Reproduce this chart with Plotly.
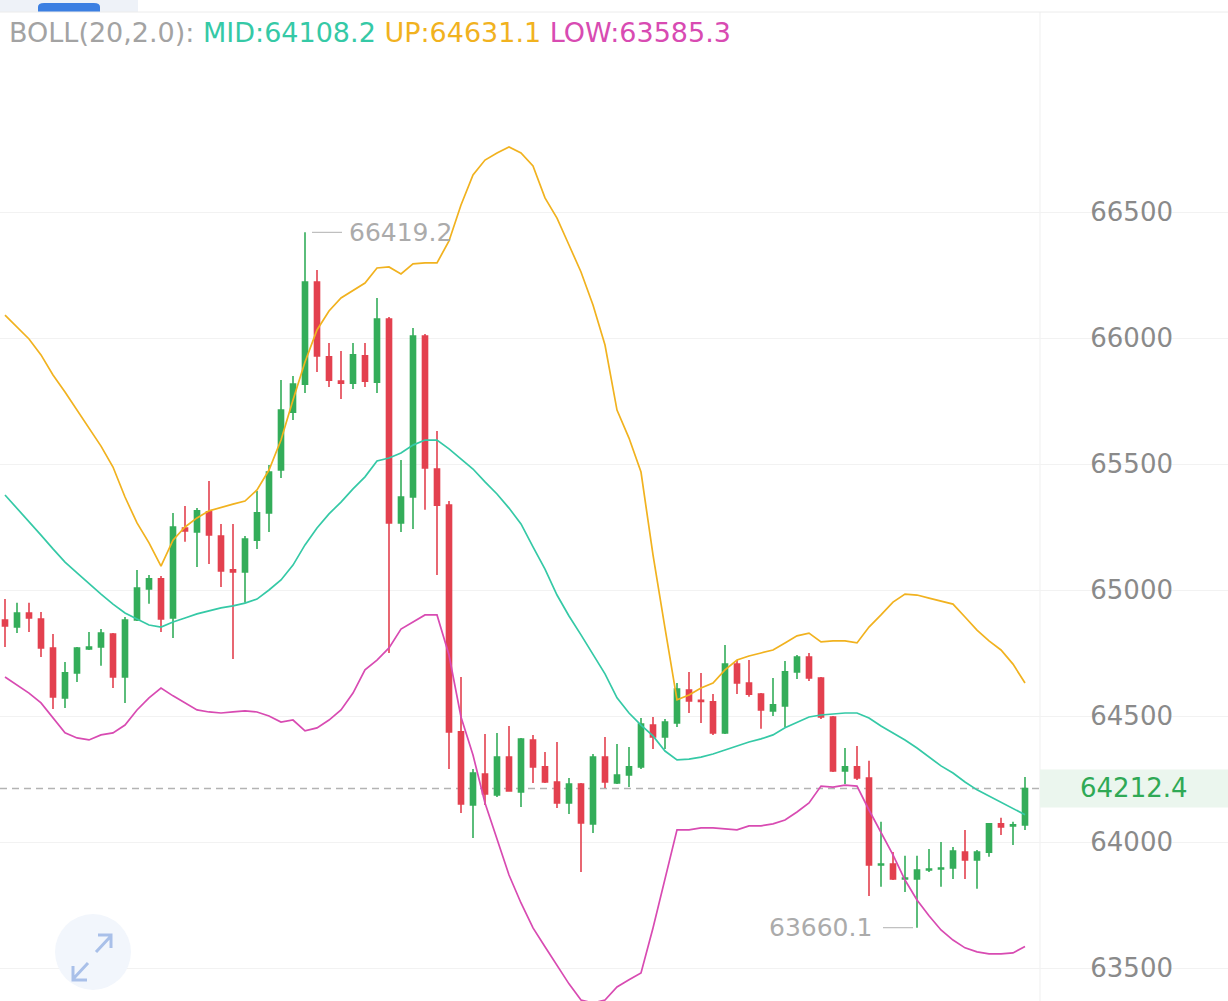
import plotly.graph_objects as go

# ---------------- data ----------------
opens = [64881, 64853, 64909, 64885, 64770, 64572, 64671, 64766, 64774, 64825,
         64655, 64881, 65004, 65044, 64889, 65246, 65230, 65310, 65214, 65080,
         65072, 65198, 65306, 65476, 65706, 65817, 66222, 65925, 65829, 65821,
         65929, 65825, 66075, 65266, 65369, 66008, 65480, 65337, 64437, 64147,
         64270, 64187, 64337, 64199, 64405, 64298, 64238, 64155, 64230, 64072,
         64337, 64234, 64266, 64298, 64464, 64417, 64472, 64603, 64562, 64556,
         64433, 64706, 64631, 64587, 64520, 64540, 64675, 64734, 64651, 64496,
         64282, 64298, 64254, 63909, 63913, 63853, 63853, 63889, 63893, 63897,
         63960, 63929, 63960, 64072, 64064, 64068]
highs = [64964, 64949, 64949, 64913, 64825, 64714, 64774, 64833, 64845, 64829,
         64893, 65079, 65060, 65056, 65306, 65333, 65325, 65433, 65262, 65262,
         65214, 65393, 65496, 65833, 65849, 66419.2, 66270, 65980, 65948, 65980,
         65980, 66159, 66083, 65516, 66040, 66016, 65631, 65353, 64655, 64290,
         64429, 64433, 64460, 64413, 64425, 64357, 64397, 64254, 64234, 64349,
         64417, 64389, 64377, 64492, 64496, 64488, 64631, 64675, 64671, 64587,
         64782, 64722, 64722, 64591, 64651, 64718, 64742, 64750, 64655, 64500,
         64373, 64381, 64322, 64080, 63960, 63945, 63945, 63972, 64000, 63980,
         64048, 63968, 64072, 64096, 64080, 64258]
lows = [64774, 64829, 64833, 64734, 64528, 64532, 64635, 64762, 64699, 64611,
        64552, 64877, 64945, 64833, 64810, 65191, 65091, 65103, 65012, 64726,
        64949, 65163, 65230, 65444, 65675, 65782, 65865, 65806, 65758, 65798,
        65806, 65782, 64750, 65230, 65242, 65318, 65060, 64290, 64115, 64016,
        64147, 64179, 64199, 64139, 64234, 64234, 64135, 64111, 63881, 64036,
        64214, 64230, 64218, 64290, 64369, 64369, 64456, 64512, 64472, 64425,
        64429, 64587, 64576, 64449, 64500, 64456, 64647, 64639, 64488, 64278,
        64230, 64246, 63786, 63822, 63849, 63802, 63660.1, 63881, 63822, 63853,
        63853, 63814, 63941, 64028, 63988, 64048]
closes = [64857, 64909, 64889, 64770, 64576, 64671, 64770, 64774, 64829, 64655,
          64881, 65008, 65044, 64885, 65250, 65234, 65314, 65218, 65076, 65072,
          65202, 65306, 65468, 65714, 65817, 66222, 65929, 65833, 65821, 65933,
          65829, 66075, 65266, 65369, 66008, 65484, 65337, 64437, 64151, 64274,
          64191, 64337, 64203, 64409, 64298, 64238, 64155, 64230, 64076, 64337,
          64238, 64266, 64298, 64468, 64417, 64476, 64607, 64560, 64558, 64433,
          64706, 64631, 64587, 64524, 64544, 64675, 64734, 64651, 64496, 64282,
          64298, 64254, 63909, 63913, 63853, 63857, 63889, 63893, 63897, 63964,
          63929, 63960, 64072, 64060, 64068, 64212.4]

boll_up = [66091, 66044, 65996, 65933, 65853, 65786, 65714, 65643, 65571, 65488,
           65369, 65266, 65187, 65095, 65198, 65250, 65286, 65314, 65329, 65341,
           65353, 65397, 65476, 65595, 65754, 65905, 66032, 66107, 66159, 66190,
           66218, 66278, 66282, 66254, 66294, 66298, 66298, 66385, 66528, 66647,
           66706, 66734, 66758, 66734, 66683, 66556, 66476, 66369, 66262, 66131,
           65972, 65714, 65603, 65468, 65139, 64849, 64564, 64583, 64611, 64631,
           64683, 64722, 64738, 64750, 64762, 64790, 64818, 64829, 64794, 64798,
           64798, 64790, 64853, 64901, 64952, 64984, 64980, 64968, 64956, 64944,
           64893, 64841, 64798, 64762, 64706, 64631.1]
boll_mid = [65377, 65325, 65274, 65218, 65163, 65111, 65068, 65024, 64984, 64944,
            64909, 64885, 64861, 64853, 64873, 64889, 64905, 64917, 64929, 64937,
            64948, 64964, 65000, 65040, 65099, 65179, 65246, 65302, 65349, 65401,
            65449, 65512, 65524, 65544, 65575, 65595, 65595, 65560, 65520, 65480,
            65429, 65381, 65325, 65262, 65171, 65083, 64980, 64897, 64822, 64746,
            64667, 64572, 64512, 64464, 64421, 64361, 64326, 64329, 64337, 64349,
            64365, 64381, 64397, 64409, 64425, 64453, 64476, 64496, 64504, 64508,
            64512, 64512, 64492, 64460, 64433, 64405, 64373, 64337, 64302, 64274,
            64238, 64207, 64183, 64159, 64135, 64108.2]
boll_low = [64655, 64623, 64591, 64552, 64492, 64433, 64413, 64405, 64425, 64433,
            64464, 64524, 64572, 64611, 64580, 64552, 64524, 64516, 64512, 64516,
            64520, 64516, 64500, 64476, 64484, 64441, 64453, 64484, 64524, 64591,
            64683, 64722, 64770, 64845, 64873, 64901, 64901, 64742, 64496, 64345,
            64155, 64008, 63869, 63758, 63659, 63584, 63508, 63437, 63373, 63361,
            63373, 63425, 63453, 63480, 63659, 63849, 64048, 64048, 64056, 64056,
            64052, 64048, 64064, 64064, 64072, 64087, 64119, 64155, 64222, 64218,
            64226, 64222, 64127, 64036, 63949, 63849, 63770, 63707, 63651, 63611,
            63580, 63564, 63556, 63556, 63560, 63585.3]

y_ticks = [63500, 64000, 64500, 65000, 65500, 66000, 66500]
idx = list(range(len(closes)))

# ---------------- styling ----------------
W, H = 1228, 1001
GREEN = "#34ad5a"
RED = "#e3414f"
C_MID = "#35c9a6"
C_UP = "#f1b21f"
C_LOW = "#d84bb2"
TICK_FONT = "DejaVu Sans"
LEG_FONT = "DejaVu Sans"


def px(x):
    return x / W


def py(y):
    return 1 - y / H


fig = go.Figure()

fig.add_trace(go.Candlestick(
    x=idx, open=opens, high=highs, low=lows, close=closes,
    increasing=dict(line=dict(color=GREEN, width=1.6), fillcolor=GREEN),
    decreasing=dict(line=dict(color=RED, width=1.6), fillcolor=RED),
    whiskerwidth=0, showlegend=False, hoverinfo="skip",
))
for vals, col in ((boll_up, C_UP), (boll_mid, C_MID), (boll_low, C_LOW)):
    fig.add_trace(go.Scatter(x=idx, y=vals, mode="lines",
                             line=dict(color=col, width=1.7),
                             showlegend=False, hoverinfo="skip"))

shapes = []
# top strip and tab
shapes.append(dict(type="rect", xref="paper", yref="paper", x0=0, x1=px(138),
                   y0=py(12), y1=1, fillcolor="#eef2f8", line=dict(width=0), layer="above"))
shapes.append(dict(type="path", xref="paper", yref="paper",
                   path=f"M {px(38)},{py(12)} L {px(38)},{py(7)} Q {px(38)},{py(3)} {px(44)},{py(3)} "
                        f"L {px(94)},{py(3)} Q {px(100)},{py(3)} {px(100)},{py(7)} L {px(100)},{py(12)} Z",
                   fillcolor="#3b7fe2", line=dict(width=0), layer="above"))
shapes.append(dict(type="line", xref="paper", yref="paper", x0=0, x1=1, y0=py(12), y1=py(12),
                   line=dict(color="#ececec", width=1), layer="above"))
# white band behind tick labels (interrupts gridlines)
shapes.append(dict(type="rect", xref="paper", yref="paper", x0=px(1052), x1=px(1215),
                   y0=0, y1=py(13), fillcolor="white", line=dict(width=0), layer="between"))
# separator
shapes.append(dict(type="line", xref="paper", yref="paper", x0=px(1040), x1=px(1040),
                   y0=0, y1=py(12), line=dict(color="#efefef", width=1), layer="below"))
# last price line and label box
last = closes[-1]
shapes.append(dict(type="line", xref="paper", yref="y", x0=0, x1=px(1040), y0=last, y1=last,
                   line=dict(color="#b3b3b3", width=1.5, dash="7px,5px"), layer="below"))
shapes.append(dict(type="rect", xref="paper", yref="y", x0=px(1040), x1=1,
                   y0=last - 75, y1=last + 75, fillcolor="#ebf6ee", line=dict(width=0), layer="above"))
# high / low markers
imax = max(idx, key=lambda i: highs[i])
imin = min(idx, key=lambda i: lows[i])
shapes.append(dict(type="line", xref="x", yref="y", x0=imax + 7 / 12, x1=imax + 37 / 12,
                   y0=highs[imax], y1=highs[imax], line=dict(color="#bdbdbd", width=1.2)))
shapes.append(dict(type="line", xref="x", yref="y", x0=imin - 34 / 12, x1=imin - 4 / 12,
                   y0=lows[imin], y1=lows[imin], line=dict(color="#bdbdbd", width=1.2)))
# zoom icon
shapes.append(dict(type="circle", xref="paper", yref="paper", x0=px(55), x1=px(131),
                   y0=py(990), y1=py(914), fillcolor="#f2f6fc", line=dict(width=0), layer="above"))
ICON = "#a9c0e9"
shapes.append(dict(type="path", xref="paper", yref="paper",
                   path=f"M {px(96)},{py(952)} L {px(110)},{py(937)} M {px(98)},{py(935)} L {px(111)},{py(935)} L {px(111)},{py(948)}",
                   line=dict(color=ICON, width=3), layer="above"))
shapes.append(dict(type="path", xref="paper", yref="paper",
                   path=f"M {px(88)},{py(963)} L {px(74)},{py(978)} M {px(73)},{py(966)} L {px(73)},{py(980)} L {px(87)},{py(980)}",
                   line=dict(color=ICON, width=3), layer="above"))

annotations = []
legend_text = (f"<span style='color:#a3a3a3'>BOLL(20,2.0): </span>"
               f"<span style='color:{C_MID}'>MID:{boll_mid[-1]:.1f} </span>"
               f"<span style='color:{C_UP}'>UP:{boll_up[-1]:.1f} </span>"
               f"<span style='color:{C_LOW}'>LOW:{boll_low[-1]:.1f}</span>")
annotations.append(dict(xref="paper", yref="paper", x=px(7), y=py(33), xanchor="left", yanchor="middle",
                        text=legend_text, showarrow=False, font=dict(family=LEG_FONT, size=27)))
annotations.append(dict(xref="x", yref="y", x=imax, y=highs[imax], xanchor="left", yanchor="middle",
                        xshift=42, text=f"{highs[imax]:.1f}", showarrow=False,
                        font=dict(family=TICK_FONT, size=25, color="#ababab")))
annotations.append(dict(xref="x", yref="y", x=imin, y=lows[imin], xanchor="right", yanchor="middle",
                        xshift=-43, text=f"{lows[imin]:.1f}", showarrow=False,
                        font=dict(family=TICK_FONT, size=25, color="#ababab")))
annotations.append(dict(xref="paper", yref="y", x=px(1134), y=last, xanchor="center", yanchor="middle",
                        text=f"{last:.1f}", showarrow=False,
                        font=dict(family=TICK_FONT, size=26, color="#2fa955")))

fig.update_layout(
    width=W, height=H, autosize=False,
    margin=dict(l=0, r=0, t=0, b=0),
    paper_bgcolor="white", plot_bgcolor="white",
    boxgap=0.4,
    showlegend=False,
    shapes=shapes, annotations=annotations,
    xaxis=dict(range=[-5 / 12, 1223 / 12], visible=False, rangeslider=dict(visible=False),
               showgrid=False, zeroline=False),
    yaxis=dict(range=[63369.05, 67341.3], side="right", tickvals=y_ticks,
               ticktext=[str(v) for v in y_ticks], ticklabelposition="inside",
               ticklabelstandoff=52, ticks="", showline=False, zeroline=False,
               showgrid=True, gridcolor="#f2f2f2", gridwidth=1,
               tickfont=dict(family=TICK_FONT, size=26, color="#8a8a8a")),
)

fig.write_html("out.html")
